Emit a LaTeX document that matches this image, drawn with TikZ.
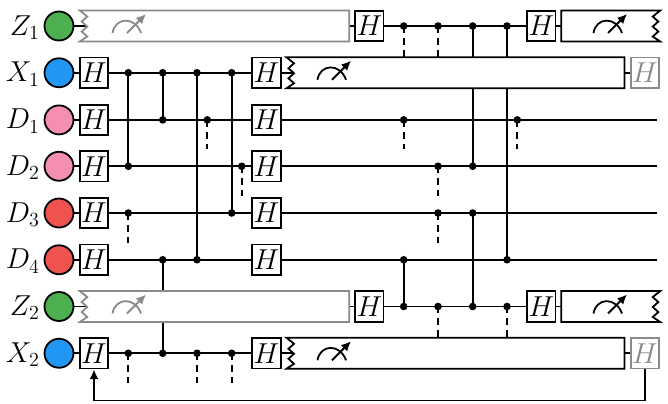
\documentclass[tikz,border=0pt]{standalone}
\usetikzlibrary{arrows.meta,backgrounds}
\definecolor{qgreen}{HTML}{4CAF50}
\definecolor{qblue}{HTML}{2196F3}
\definecolor{qpink}{HTML}{F48FB1}
\definecolor{qred}{HTML}{EF5350}
\definecolor{qgrey}{HTML}{8A8A8A}
\def\uu{0.72pt}
\def\lw{1.3pt}
\def\rZa{26}\def\rXa{72.75}\def\rDa{119.9}\def\rDb{166.25}\def\rDc{213}\def\rDd{259.75}\def\rZb{306.5}\def\rXb{353.25}
\tikzset{
  x=\uu,y=-\uu,
  wire/.style={line width=\lw},
  dashwire/.style={line width=\lw,dash pattern=on 5pt off 3.6pt},
  qubit/.style={circle,draw,line width=\lw,minimum size=29*\uu,inner sep=0pt},
  gate/.style={rectangle,draw,fill=white,line width=\lw,minimum width=28.5*\uu,minimum height=30.5*\uu,inner sep=0pt,font=\huge},
  ghost/.style={gate,draw=qgrey,text=qgrey},
  ctrl/.style={circle,fill=black,minimum size=7.6*\uu,inner sep=0pt},
  lab/.style={anchor=base east,font=\huge,inner sep=0pt},
  region/.style={rectangle,inner sep=0pt,minimum height=30.5*\uu},
  outline/.style={fill=white,line width=\lw,line join=miter},
  dial/.pic={
    \draw[line width=\lw] (-14.5,7) .. controls (-12,-9) and (8,-10) .. (14,7);
    \draw[line width=\lw,-{Latex[length=7pt,width=6.5pt]}] (0,7) -- (19,-12);
  }
}
\begin{document}
\begin{tikzpicture}
\useasboundingbox (0,0) rectangle (668,403);
% labels
\node[lab] (lZa) at (40,\rZa+9) {$Z_1$};
\node[lab] (lXa) at (40,\rXa+9) {$X_1$};
\node[lab] (lDa) at (40,\rDa+9) {$D_1$};
\node[lab] (lDb) at (40,\rDb+9) {$D_2$};
\node[lab] (lDc) at (40,\rDc+9) {$D_3$};
\node[lab] (lDd) at (40,\rDd+9) {$D_4$};
\node[lab] (lZb) at (40,\rZb+9) {$Z_2$};
\node[lab] (lXb) at (40,\rXb+9) {$X_2$};
% qubits
\node[qubit,fill=qgreen] (qZa) at (59,\rZa) {};
\node[qubit,fill=qblue] (qXa) at (59,\rXa) {};
\node[qubit,fill=qpink] (qDa) at (59,\rDa) {};
\node[qubit,fill=qpink] (qDb) at (59,\rDb) {};
\node[qubit,fill=qred] (qDc) at (59,\rDc) {};
\node[qubit,fill=qred] (qDd) at (59,\rDd) {};
\node[qubit,fill=qgreen] (qZb) at (59,\rZb) {};
\node[qubit,fill=qblue] (qXb) at (59,\rXb) {};
% gates, first column
\node[gate] (hXa) at (94,\rXa) {$H$};
\node[gate] (hDa) at (94,\rDa) {$H$};
\node[gate] (hDb) at (94,\rDb) {$H$};
\node[gate] (hDc) at (94,\rDc) {$H$};
\node[gate] (hDd) at (94,\rDd) {$H$};
\node[gate] (hXb) at (94,\rXb) {$H$};
% gates, second column
\node[gate] (kXa) at (266.5,\rXa) {$H$};
\node[gate] (kDa) at (266.5,\rDa) {$H$};
\node[gate] (kDb) at (266.5,\rDb) {$H$};
\node[gate] (kDc) at (266.5,\rDc) {$H$};
\node[gate] (kDd) at (266.5,\rDd) {$H$};
\node[gate] (kXb) at (266.5,\rXb) {$H$};
% Z gates
\node[gate] (mZa) at (369.3,\rZa) {$H$};
\node[gate] (mZb) at (369.3,\rZb) {$H$};
\node[gate] (nZa) at (541.3,\rZa) {$H$};
\node[gate] (nZb) at (541.3,\rZb) {$H$};
% ghost gates
\node[ghost] (gXa) at (645,\rXa) {$H$};
\node[ghost] (gXb) at (645,\rXb) {$H$};
% measurement regions
\node[region,minimum width=269*\uu] (rZa) at (214.5,\rZa) {};
\node[region,minimum width=269*\uu] (rZb) at (214.5,\rZb) {};
\node[region,minimum width=337.5*\uu] (rXa) at (455.5,\rXa) {};
\node[region,minimum width=337.5*\uu] (rXb) at (455.5,\rXb) {};
\node[region,minimum width=98.5*\uu] (sZa) at (610.75,\rZa) {};
\node[region,minimum width=98.5*\uu] (sZb) at (610.75,\rZb) {};
% controls
\foreach \nm/\xx/\yy in {
  aXa/128.3/\rXa, bXa/162.7/\rXa, cXa/197/\rXa, dXa/231.7/\rXa,
  aDa/162.7/\rDa, bDa/207.3/\rDa, cDa/403.7/\rDa, dDa/517.3/\rDa,
  aDb/128.3/\rDb, bDb/241.7/\rDb, cDb/438/\rDb, dDb/472.7/\rDb,
  aDc/128.3/\rDc, bDc/231.7/\rDc, cDc/438/\rDc, dDc/472.7/\rDc,
  aDd/162.7/\rDd, bDd/197/\rDd, cDd/403.7/\rDd, dDd/507/\rDd,
  aXb/128.3/\rXb, bXb/162.7/\rXb, cXb/197/\rXb, dXb/231.7/\rXb,
  aZa/403.7/\rZa, bZa/438/\rZa, cZa/472.7/\rZa, dZa/507/\rZa,
  aZb/403.7/\rZb, bZb/438/\rZb, cZb/472.7/\rZb, dZb/507/\rZb}
  {\node[ctrl] (\nm) at (\xx,\yy) {};}
% free ends
\coordinate (eDa) at (657,\rDa);
\coordinate (eDb) at (657,\rDb);
\coordinate (eDc) at (657,\rDc);
\coordinate (eDd) at (657,\rDd);
\coordinate (tDa) at (207.3,149);
\coordinate (tDb) at (241.7,196);
\coordinate (tDc) at (128.3,243);
\coordinate (uXb) at (128.3,383);
\coordinate (vXb) at (197,383);
\coordinate (wXb) at (231.7,383);
\coordinate (pZa) at (403.7,57);
\coordinate (qZaa) at (438,57);
\coordinate (pDa) at (403.7,149);
\coordinate (qDaa) at (517.3,149);
\coordinate (pDb) at (438,196);
\coordinate (pDc) at (438,243);
\coordinate (pZb) at (438,338);
\coordinate (qZbb) at (507,338);
\coordinate (fbA) at (645,400.5);
\coordinate (fbB) at (94,400.5);
\begin{pgfonlayer}{background}
  % horizontal wires
  \draw[wire] (qZa) -- (mZa) -- (nZa) -- (sZa);
  \draw[wire] (qXa) -- (hXa) -- (kXa) -- (gXa);
  \draw[wire] (qDa) -- (hDa) -- (kDa) -- (eDa);
  \draw[wire] (qDb) -- (hDb) -- (kDb) -- (eDb);
  \draw[wire] (qDc) -- (hDc) -- (kDc) -- (eDc);
  \draw[wire] (qDd) -- (hDd) -- (kDd) -- (eDd);
  \draw[wire] (qZb) -- (mZb) -- (nZb) -- (sZb);
  \draw[wire] (qXb) -- (hXb) -- (kXb) -- (gXb);
  % solid couplings
  \draw[wire] (aXa.center) -- (aDb.center);
  \draw[wire] (bXa.center) -- (aDa.center);
  \draw[wire] (cXa.center) -- (bDd.center);
  \draw[wire] (dXa.center) -- (bDc.center);
  \draw[wire] (aDd.center) -- (bXb.center);
  \draw[wire] (cZa.center) -- (dDb.center);
  \draw[wire] (dZa.center) -- (dDd.center);
  \draw[wire] (cDd.center) -- (aZb.center);
  \draw[wire] (dDc.center) -- (cZb.center);
  % dashed couplings
  \draw[dashwire] (bDa.center) -- (tDa);
  \draw[dashwire] (bDb.center) -- (tDb);
  \draw[dashwire] (aDc.center) -- (tDc);
  \draw[dashwire] (aXb.center) -- (uXb);
  \draw[dashwire] (cXb.center) -- (vXb);
  \draw[dashwire] (dXb.center) -- (wXb);
  \draw[dashwire] (aZa.center) -- (pZa);
  \draw[dashwire] (bZa.center) -- (qZaa);
  \draw[dashwire] (cDa.center) -- (pDa);
  \draw[dashwire] (dDa.center) -- (qDaa);
  \draw[dashwire] (cDb.center) -- (pDb);
  \draw[dashwire] (cDc.center) -- (pDc);
  \draw[dashwire] (bZb.center) -- (pZb);
  \draw[dashwire] (dZb.center) -- (qZbb);
\end{pgfonlayer}
% measurement outlines
\draw[outline,draw=qgrey] (rZa.north west) -- (rZa.north east) -- (rZa.south east) -- (rZa.south west) -- ++(7.5,-5) -- ++(-5.5,-5) -- ++(5.5,-5) -- ++(-5.5,-5) -- ++(5.5,-5) -- cycle;
\draw[outline,draw=qgrey] (rZb.north west) -- (rZb.north east) -- (rZb.south east) -- (rZb.south west) -- ++(7.5,-5) -- ++(-5.5,-5) -- ++(5.5,-5) -- ++(-5.5,-5) -- ++(5.5,-5) -- cycle;
\draw[outline] (rXa.north west) -- (rXa.north east) -- (rXa.south east) -- (rXa.south west) -- ++(7.5,-5) -- ++(-5.5,-5) -- ++(5.5,-5) -- ++(-5.5,-5) -- ++(5.5,-5) -- cycle;
\draw[outline] (rXb.north west) -- (rXb.north east) -- (rXb.south east) -- (rXb.south west) -- ++(7.5,-5) -- ++(-5.5,-5) -- ++(5.5,-5) -- ++(-5.5,-5) -- ++(5.5,-5) -- cycle;
\draw[outline] (sZa.north east) -- (sZa.north west) -- (sZa.south west) -- (sZa.south east) -- ++(-7.5,-5) -- ++(5.5,-5) -- ++(-5.5,-5) -- ++(5.5,-5) -- ++(-5.5,-5) -- cycle;
\draw[outline] (sZb.north east) -- (sZb.north west) -- (sZb.south west) -- (sZb.south east) -- ++(-7.5,-5) -- ++(5.5,-5) -- ++(-5.5,-5) -- ++(5.5,-5) -- ++(-5.5,-5) -- cycle;
% dials
\pic[qgrey] at (127,\rZa) {dial};
\pic[qgrey] at (127,\rZb) {dial};
\pic at (332,\rXa) {dial};
\pic at (332,\rXb) {dial};
\pic at (608,\rZa) {dial};
\pic at (608,\rZb) {dial};
% feedback
\draw[wire,-{Latex[length=7pt,width=6.5pt]}] (gXb.south) -- (fbA) -- (fbB) -- (hXb.south);
\end{tikzpicture}
\end{document}
